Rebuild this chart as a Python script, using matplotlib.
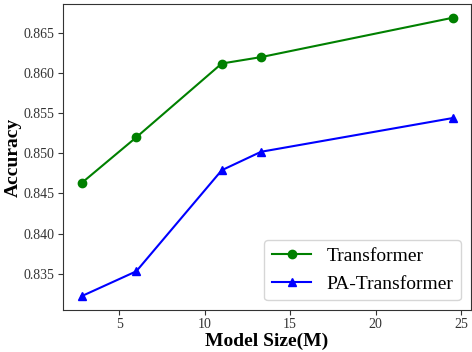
import matplotlib
matplotlib.use("Agg")
import matplotlib.pyplot as plt

# model sizes (M) and accuracies
model_size = [2.8, 6.0, 11.0, 13.3, 24.5]
acc_transformer = [0.8463, 0.8520, 0.8612, 0.8620, 0.8669]
acc_pa_transformer = [0.8322, 0.8353, 0.8479, 0.8502, 0.8544]

plt.rcParams['font.family'] = ['Liberation Serif', 'DejaVu Serif']

fig, ax = plt.subplots(figsize=(4.72, 3.52), dpi=100)
fig.subplots_adjust(left=0.1335, right=0.998, top=0.989, bottom=0.119)

ax.plot(model_size, acc_transformer, color='green', marker='o', markersize=6,
        linewidth=1.5, label='Transformer')
ax.plot(model_size, acc_pa_transformer, color='blue', marker='^', markersize=6,
        linewidth=1.5, label='PA-Transformer')

ax.set_xlabel('Model Size(M)', fontsize=14, fontweight='bold', labelpad=1)
ax.set_ylabel('Accuracy', fontsize=14, fontweight='bold', labelpad=1.5)
ax.set_xticks([5, 10, 15, 20, 25])
ax.set_yticks([0.835, 0.840, 0.845, 0.850, 0.855, 0.860, 0.865])
ax.tick_params(labelsize=10, colors='#333333', pad=2.5)
for s in ax.spines.values():
    s.set_color('#333333')

ax.legend(loc='lower right', fontsize=14, borderpad=0.4, handlelength=2.0)

fig.savefig('out.png', dpi=100)
